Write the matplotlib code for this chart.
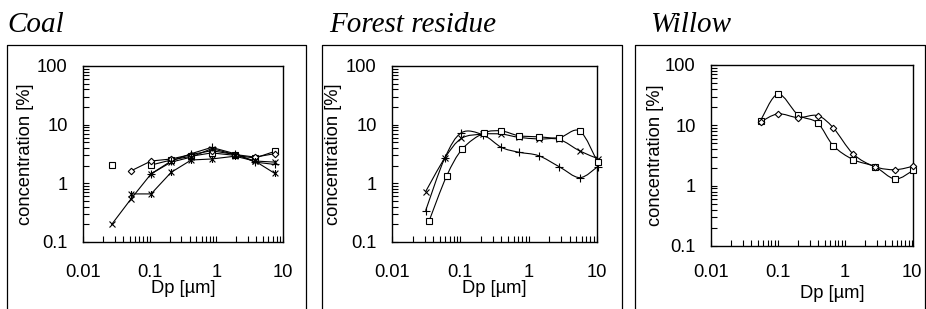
import numpy as np
import matplotlib
matplotlib.use("Agg")
import matplotlib.pyplot as plt
from matplotlib.path import Path
from matplotlib.patches import PathPatch
from matplotlib.lines import Line2D
from matplotlib.ticker import FixedLocator, LogLocator, NullFormatter, FuncFormatter

nan = np.nan

# --- data ---
coal_dp = [0.027, 0.053, 0.105, 0.21, 0.42, 0.85, 1.9, 3.8, 7.5]
coal_square = [2.05, nan, 2.05, 2.5, 2.9, 3.3, 3.0, 2.7, 3.5]
coal_diamond = [nan, 1.64, 2.4, 2.6, 3.1, 3.6, 3.1, 2.8, 3.2]
coal_cross = [0.20, 0.55, 1.45, 2.3, 2.8, 3.9, 3.1, 2.4, 2.3]
coal_star = [nan, 0.66, 0.66, 1.54, 2.5, 2.6, 2.9, 2.4, 1.48]
coal_plus = [nan, nan, 1.45, 2.4, 3.2, 4.1, 3.2, 2.3, 2.1]

forest_dp = [0.031, 0.059, 0.104, 0.215, 0.40, 0.71, 1.4, 2.8, 5.6, 10.2]
forest_dp_sq = [0.035, 0.063, 0.107, 0.22, 0.40, 0.71, 1.4, 2.8, 5.6, 10.2]
forest_cross = [0.72, 2.67, 5.85, 6.9, 6.9, 6.1, 5.7, 5.6, 3.56, 2.65]
forest_plus = [0.34, 2.67, 7.3, 6.7, 4.1, 3.4, 2.96, 1.92, 1.25, 1.92]
forest_square = [0.23, 1.33, 3.85, 7.2, 7.8, 6.5, 6.2, 6.0, 7.8, 2.3]

willow_dp = [0.055, 0.10, 0.20, 0.39, 0.67, 1.33, 2.8, 5.6, 10.5]
willow_square = [12.0, 33.0, 14.9, 11.0, 4.6, 2.7, 2.07, 1.29, 1.8]
willow_diamond = [11.4, 15.5, 13.4, 14.5, 9.1, 3.35, 2.07, 1.84, 2.1]

titles = ["Coal", "Forest residue", "Willow"]
x_ticks = [0.01, 0.1, 1, 10]
y_ticks = [0.1, 1, 10, 100]

W, H = 926, 309
FS = 13.2
fig = plt.figure(figsize=(W / 100, H / 100), dpi=100)

# asterisk marker: x with a vertical bar
star_marker = Path(
    [(-1, -1), (1, 1), (-1, 1), (1, -1), (0, -1.2), (0, 1.2)],
    [Path.MOVETO, Path.LINETO, Path.MOVETO, Path.LINETO, Path.MOVETO, Path.LINETO],
)


def smooth_curve(ax, xs, ys):
    # Excel-style smoothed line: cubic bezier through the points in log-log space
    lx = np.log10(np.asarray(xs, float))
    ly = np.log10(np.asarray(ys, float))
    pts = np.column_stack([lx, ly])
    n = len(pts)
    verts = [pts[0]]
    codes = [Path.MOVETO]
    for i in range(n - 1):
        p0 = pts[i - 1] if i > 0 else pts[i]
        p1, p2 = pts[i], pts[i + 1]
        p3 = pts[i + 2] if i + 2 < n else pts[i + 1]
        verts += [p1 + (p2 - p0) / 6, p2 - (p3 - p1) / 6, p2]
        codes += [Path.CURVE4] * 3
    verts = 10 ** np.array(verts)
    patch = PathPatch(Path(verts, codes), transform=ax.transData, fill=False,
                      edgecolor="black", lw=0.8, clip_on=False)
    ax.add_patch(patch)


def marks(ax, xs, ys, marker, ms=4.5):
    ax.plot(xs, ys, linestyle="none", marker=marker, ms=ms, mfc="white",
            mec="black", mew=0.8, clip_on=False, zorder=5)


def setup(ax, rect, xlab_x, xlab_y, ylab_x, xlim, xpad=16):
    l, t, r, b = rect
    ax.set_position([l / W, 1 - b / H, (r - l) / W, (b - t) / H])
    ax.set_xscale("log")
    ax.set_yscale("log")
    ax.set_xlim(*xlim)
    ax.set_ylim(0.1, 100)
    ax.xaxis.set_major_locator(FixedLocator(x_ticks))
    ax.yaxis.set_major_locator(FixedLocator(y_ticks))
    ax.xaxis.set_minor_locator(LogLocator(base=10, subs=np.arange(2, 10)))
    ax.yaxis.set_minor_locator(LogLocator(base=10, subs=np.arange(2, 10)))
    ax.xaxis.set_minor_formatter(NullFormatter())
    ax.yaxis.set_minor_formatter(NullFormatter())
    fmt = FuncFormatter(lambda v, p: f"{v:g}")
    ax.xaxis.set_major_formatter(fmt)
    ax.yaxis.set_major_formatter(fmt)
    ax.tick_params(which="both", direction="in", length=4, width=0.8,
                   labelsize=FS, top=False, right=False)
    ax.tick_params(axis="x", which="both", pad=xpad)
    ax.tick_params(axis="y", which="both", pad=11)
    for s in ax.spines.values():
        s.set_linewidth(1.0)
    ax.set_xlabel("Dp [µm]", fontsize=FS)
    ax.set_ylabel("concentration [%]", fontsize=FS)
    ax.xaxis.set_label_coords(xlab_x, xlab_y)
    ax.yaxis.set_label_coords(ylab_x, 0.5)


plt.rcParams["font.family"] = ["Liberation Sans", "DejaVu Sans"]

ax1 = fig.add_axes([0, 0, 1, 1])
ax2 = fig.add_axes([0, 0, 1, 1])
ax3 = fig.add_axes([0, 0, 1, 1])
setup(ax1, (83, 66, 283, 242), 0.5, -0.215, -0.245, (0.01, 10))
setup(ax2, (392, 66, 597, 242), 0.5, -0.215, -0.245, (0.01, 10))
setup(ax3, (711, 65, 913, 246), 0.6, -0.215, -0.235, (0.01, 10.4), xpad=13)

# Coal: straight segments
for ys, m, ms in [(coal_square, "s", 4.5), (coal_diamond, "D", 3.3),
                  (coal_cross, "x", 5), (coal_star, star_marker, 5),
                  (coal_plus, "+", 5.5)]:
    ax1.plot(coal_dp, ys, color="black", lw=0.8, clip_on=False)
    marks(ax1, coal_dp, ys, m, ms)

# Forest residue: smoothed
smooth_curve(ax2, forest_dp, forest_cross)
smooth_curve(ax2, forest_dp, forest_plus)
smooth_curve(ax2, forest_dp_sq, forest_square)
marks(ax2, forest_dp, forest_cross, "x", 5)
marks(ax2, forest_dp, forest_plus, "+", 5.5)
marks(ax2, forest_dp_sq, forest_square, "s", 4.5)

# Willow: smoothed
smooth_curve(ax3, willow_dp, willow_square)
smooth_curve(ax3, willow_dp, willow_diamond)
marks(ax3, willow_dp, willow_square, "s", 4.5)
marks(ax3, willow_dp, willow_diamond, "D", 3.3)

# outer frames (open at the bottom) and titles
frames = [(7, 306), (322, 622), (635, 925)]
title_x = [7, 329, 650]
for (fl, fr), tx, title in zip(frames, title_x, titles):
    xs = [fl / W, fl / W, fr / W, fr / W]
    ys = [-0.05, 1 - 45 / H, 1 - 45 / H, -0.05]
    fig.add_artist(Line2D(xs, ys, color="black", lw=0.9, transform=fig.transFigure))
    fig.text(tx / W, 1 - 32 / H, title, fontsize=21, style="italic",
             family="Liberation Serif", va="baseline", ha="left")

fig.savefig("out.png", dpi=100)
